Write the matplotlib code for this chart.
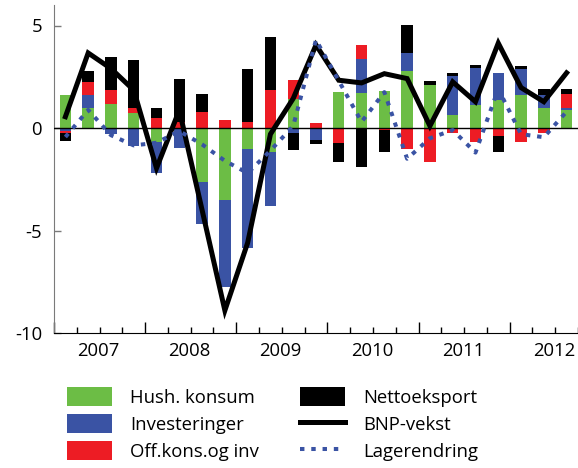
import matplotlib
matplotlib.use("Agg")
import matplotlib.pyplot as plt
import numpy as np
from matplotlib.patches import Patch
from matplotlib.lines import Line2D
import matplotlib.transforms as mtransforms

plt.rcParams['font.family'] = ['Open Sans', 'DejaVu Sans']

quarters = ['2007K1', '2007K2', '2007K3', '2007K4',
            '2008K1', '2008K2', '2008K3', '2008K4',
            '2009K1', '2009K2', '2009K3', '2009K4',
            '2010K1', '2010K2', '2010K3', '2010K4',
            '2011K1', '2011K2', '2011K3', '2011K4',
            '2012K1', '2012K2', '2012K3']

hush_konsum = [1.6, 1.0, 1.17, 0.74, -0.66, 0.0, -2.64, -3.5, -1.02, -1.15, 1.41, 0.0,
               1.76, 1.73, 1.81, 2.77, 2.12, 0.61, 1.12, 1.39, 1.63, 0.97, 0.89]
investeringer = [-0.13, 0.6, -0.29, -0.87, -1.52, -0.97, -2.02, -4.24, -4.82, -2.64, -0.26, -0.6,
                 0.0, 1.62, 0.0, 0.9, 0.0, 1.91, 1.81, 1.31, 1.23, 0.62, 0.1]
off_kons = [-0.1, 0.66, 0.68, 0.24, 0.5, 0.28, 0.76, 0.39, 0.29, 1.84, 0.92, 0.25,
            -0.74, 0.71, -0.1, -1.04, -1.67, -0.23, -0.68, -0.39, -0.7, -0.24, 0.68]
nettoeksport = [-0.39, 0.52, 1.62, 2.35, 0.5, 2.1, 0.92, 0.0, 2.59, 2.62, -0.79, -0.18,
                -0.94, -1.89, -1.05, 1.36, 0.16, 0.18, 0.13, -0.78, 0.16, 0.32, 0.24]
bnp_vekst = [0.55, 3.66, 2.9, 1.85, -1.96, 0.87, -4.0, -8.9, -5.6, -0.3, 1.44, 4.05,
             2.33, 2.2, 2.65, 2.41, 0.1, 2.25, 1.28, 4.14, 1.97, 1.28, 2.69]
lagerendring = [-0.44, 0.88, -0.35, -0.85, -0.72, -0.15, -0.8, -1.6, -2.2, -1.1, 0.1, 4.3,
                2.3, 0.3, 1.75, -1.5, -0.5, -0.1, -1.2, 1.9, -0.3, -0.45, 0.8]

years = ['2007', '2008', '2009', '2010', '2011', '2012']
series_names = ['Hush. konsum', 'Investeringer', 'Off.kons.og inv', 'Nettoeksport']
line_names = ['BNP-vekst', 'Lagerendring']

colors = ['#6cbd45', '#3a53a4', '#ed1c24', '#000000']
lager_color = '#3a53a4'
FS = 13.3

W, H = 578, 468
fig = plt.figure(figsize=(W / 100, H / 100), dpi=100)
ax = fig.add_axes([54 / W, 1 - 333 / H, 524 / W, 328 / H])

n = len(quarters)
x = np.arange(1, n + 1)
pos_bottom = np.zeros(n)
neg_bottom = np.zeros(n)
for vals, c in zip([hush_konsum, investeringer, off_kons, nettoeksport], colors):
    v = np.array(vals)
    pos = np.where(v > 0, v, 0)
    neg = np.where(v < 0, v, 0)
    ax.bar(x, pos, bottom=pos_bottom, width=0.5, color=c, edgecolor='none', zorder=2)
    ax.bar(x, neg, bottom=neg_bottom, width=0.5, color=c, edgecolor='none', zorder=2)
    pos_bottom += pos
    neg_bottom += neg

ax.axhline(0, color='black', lw=1.0, zorder=3)
ax.plot(x, bnp_vekst, color='black', lw=3.6, zorder=4, solid_joinstyle='miter')
ax.plot(x, lagerendring, color=lager_color, lw=2.9, linestyle=(0, (1.1, 1.7)),
        dash_capstyle='butt', zorder=5)

ax.set_xlim(0.5, n + 0.5)
ax.set_ylim(-10, 6)
ax.set_yticks([5, 0, -5, -10])
ax.set_yticklabels(['5', '0', '-5', '-10'])
ax.tick_params(axis='y', direction='in', length=5, width=1, labelsize=FS, pad=8.5, color='#7a7a7a')

ax.set_xticks(np.arange(0.5, n + 0.6, 4))
ax.set_xticks(np.arange(0.5, n + 0.6, 1), minor=True)
ax.tick_params(axis='x', which='major', direction='in', length=8, width=1, labelbottom=False, color='black')
ax.tick_params(axis='x', which='minor', direction='in', length=4, width=1, color='black')

for sp in ['top', 'right']:
    ax.spines[sp].set_visible(False)
ax.spines['left'].set_color('#7a7a7a')
ax.spines['bottom'].set_color('black')

trans = mtransforms.blended_transform_factory(ax.transData, fig.transFigure)
for i, yr in enumerate(years):
    first = 1 + 4 * i
    cx = first + 1.5 - 0.05
    ax.text(cx, 1 - 351 / H, yr, transform=trans, ha='center', va='center', fontsize=FS)

handles1 = [Patch(facecolor=c, edgecolor='none') for c in colors[:3]]
handles2 = [Patch(facecolor=colors[3], edgecolor='none'),
            Line2D([], [], color='black', lw=3.6),
            Line2D([], [], color=lager_color, lw=2.9, linestyle=(0, (1.1, 1.7)), dash_capstyle='butt')]
common = dict(frameon=False, fontsize=FS, handlelength=2.45, handleheight=1.26,
              labelspacing=0.38, handletextpad=1.0, borderpad=0, borderaxespad=0, loc='upper left')
leg1 = fig.legend(handles1, series_names[:3], bbox_to_anchor=(66.5 / W, 1 - 386.5 / H), **common)
leg2 = fig.legend(handles2, [series_names[3]] + line_names, bbox_to_anchor=(299.5 / W, 1 - 386.5 / H), **common)

fig.savefig('out.png', dpi=100)
